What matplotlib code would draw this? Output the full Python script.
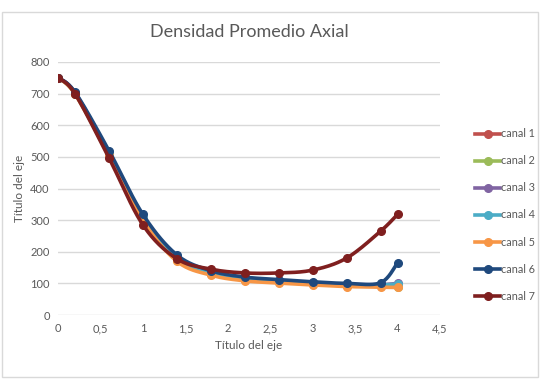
import matplotlib
matplotlib.use("Agg")
import matplotlib.pyplot as plt
import numpy as np
from matplotlib.patches import Rectangle
from matplotlib.lines import Line2D

plt.rcParams['font.family'] = ['Lato', 'DejaVu Sans']

x = [0, 0.2, 0.6, 1.0, 1.4, 1.8, 2.2, 2.6, 3.0, 3.4, 3.8, 4.0]
canal1 = [750, 702, 510, 305, 176, 132, 114, 106, 99, 95, 93, 92]
canal2 = [750, 700, 508, 302, 174, 130, 112, 104, 97, 93, 91, 90]
canal3 = [750, 703, 512, 307, 178, 134, 116, 108, 101, 97, 96, 100]
canal4 = [750, 702, 511, 306, 177, 133, 115, 107, 100, 96, 95, 98]
canal5 = [750, 699, 505, 300, 170, 126, 108, 101, 95, 90, 88, 87]
canal6 = [750, 705, 520, 318, 190, 140, 120, 112, 105, 100, 102, 165]
canal7 = [750, 700, 497, 285, 178, 145, 133, 133, 142, 180, 265, 318]

series = [canal1, canal2, canal3, canal4, canal5, canal6, canal7]
labels = ['canal 1', 'canal 2', 'canal 3', 'canal 4', 'canal 5', 'canal 6', 'canal 7']
colors = ['#C0504D', '#9BBB59', '#8064A2', '#4BACC6', '#F79646', '#1F497D', '#7F1F1F']
yticks = [0, 100, 200, 300, 400, 500, 600, 700, 800]
xticks = [0, 0.5, 1, 1.5, 2, 2.5, 3, 3.5, 4, 4.5]
xtick_labels = ['0', '0,5', '1', '1,5', '2', '2,5', '3', '3,5', '4', '4,5']


def smooth(xs, ys, n=20, t=1/6):
    """Excel-like smoothed line: cubic Bezier segments through the data points."""
    xs = np.asarray(xs, float)
    ys = np.asarray(ys, float)
    px, py = [], []
    m = len(xs)
    for i in range(m - 1):
        x0, y0 = (xs[i - 1], ys[i - 1]) if i > 0 else (xs[i], ys[i])
        x1, y1 = xs[i], ys[i]
        x2, y2 = xs[i + 1], ys[i + 1]
        x3, y3 = (xs[i + 2], ys[i + 2]) if i + 2 < m else (x2, y2)
        c1x, c1y = x1 + (x2 - x0) * t, y1 + (y2 - y0) * t
        c2x, c2y = x2 - (x3 - x1) * t, y2 - (y3 - y1) * t
        s = np.linspace(0, 1, n)
        bx = (1-s)**3*x1 + 3*(1-s)**2*s*c1x + 3*(1-s)*s**2*c2x + s**3*x2
        by = (1-s)**3*y1 + 3*(1-s)**2*s*c1y + 3*(1-s)*s**2*c2y + s**3*y2
        px.extend(bx)
        py.extend(by)
    return px, py


fig = plt.figure(figsize=(5.4, 3.85), dpi=100)
fig.patches.append(Rectangle((0.004, 0.02), 0.992, 0.95, transform=fig.transFigure,
                             fill=False, edgecolor='#D9D9D9', linewidth=1.0))
ax = fig.add_axes([58/540, 1 - 315/385, (440 - 58)/540, (315 - 62)/385])

handles = []
for s, lab, c in zip(series, labels, colors):
    sx, sy = smooth(x, s)
    ax.plot(sx, sy, color=c, linewidth=2.6, solid_capstyle='round')
    ax.plot(x, s, linestyle='none', marker='o', markersize=5.5, color=c)
    handles.append(Line2D([], [], color=c, linewidth=2.6, marker='o', markersize=5.5))

ax.set_xlim(0, 4.5)
ax.set_ylim(0, 800)
ax.set_yticks(yticks)
ax.set_xticks(xticks)
ax.set_xticklabels(xtick_labels)
ax.grid(axis='y', color='#D9D9D9', linewidth=1)
ax.set_axisbelow(True)
for sp in ax.spines.values():
    sp.set_visible(False)
ax.tick_params(length=0, colors='#595959', labelsize=8, pad=6)
ax.set_xlabel('Título del eje', color='#595959', fontsize=8.5)
ax.set_ylabel('Título del eje', color='#595959', fontsize=8.5)
ax.set_title('Densidad Promedio Axial', color='#595959', fontsize=13, pad=18)

leg = fig.legend(handles, labels, loc='center left', bbox_to_anchor=(470/540, 1 - 215/385),
                 frameon=False, fontsize=7.8, labelspacing=1.48, handlelength=2.3,
                 handletextpad=0.05, borderpad=0)
for t in leg.get_texts():
    t.set_color('#595959')

fig.savefig('out.png', dpi=100)
